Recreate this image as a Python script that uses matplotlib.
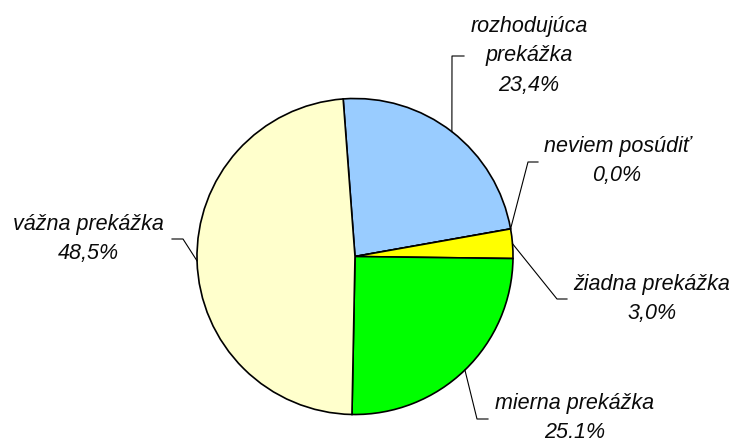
import numpy as np
import matplotlib
matplotlib.use("Agg")
import matplotlib.pyplot as plt

# data
labels = ["rozhodujúca\nprekážka", "neviem posúdiť", "žiadna prekážka",
          "mierna prekážka", "vážna prekážka"]
values = [23.4, 0.0, 3.0, 25.1, 48.5]
colors = ["#99CCFF", "#FFFF00", "#FFFF00", "#00FF00", "#FFFFCC"]

W, H = 736, 439
fig = plt.figure(figsize=(W / 100, H / 100), dpi=100)
ax = fig.add_axes([0, 0, 1, 1])

cx, cy, r = 355, H - 257.5, 158
wedges, _ = ax.pie(values, colors=colors, startangle=94.3, counterclock=False,
                   center=(cx, cy), radius=r,
                   wedgeprops=dict(edgecolor="black", linewidth=1.2))
ax.set_xlim(0, W)
ax.set_ylim(0, H)
ax.set_aspect("equal")
ax.axis("off")

# leader lines: (elbow, end) in pixel coords, text centre
layout = [
    ((452, 57), (464, 57), (529, 56)),
    ((528, 163), (538, 163), (617, 161)),
    ((557, 300), (567, 300), (652, 299)),
    ((477, 420), (488, 420), (575, 418)),
    ((183, 240), (172, 240), (88, 239)),
]

for w, lab, val, (elbow, end, tpos) in zip(wedges, labels, values, layout):
    mid = np.deg2rad((w.theta1 + w.theta2) / 2)
    if val == 0:
        mid = np.deg2rad(w.theta1)
    x0 = cx + r * np.cos(mid)
    y0 = cy + r * np.sin(mid)
    ax.plot([x0, elbow[0], end[0]], [y0, H - elbow[1], H - end[1]],
            color="black", linewidth=0.8)
    txt = "%s\n%s%%" % (lab, ("%.1f" % val).replace(".", ","))
    ax.text(tpos[0], H - tpos[1], txt, ha="center", va="center",
            family="Liberation Sans", style="italic", fontsize=15.5,
            linespacing=1.55, color="#0a0a0a")

fig.savefig("out.png", dpi=100)
